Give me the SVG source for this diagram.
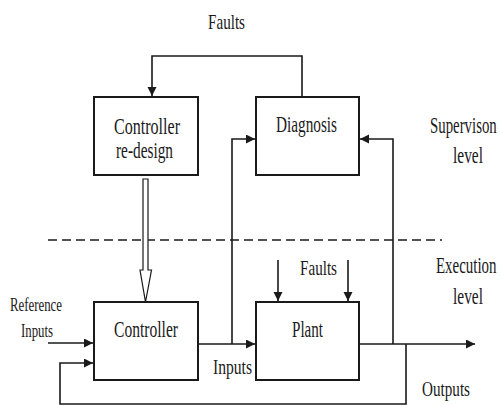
<svg xmlns="http://www.w3.org/2000/svg" width="503" height="406" viewBox="0 0 503 406">
  <style>
    .box { fill: #ffffff; stroke: #1a1a1a; stroke-width: 2; }
    .line { fill: none; stroke: #1a1a1a; stroke-width: 1.6; }
    .dash { fill: none; stroke: #1a1a1a; stroke-width: 1.6; stroke-dasharray: 9 5; }
    .hollow { fill: #ffffff; stroke: #1a1a1a; stroke-width: 1.2; }
    .t { font-family: 'Liberation Serif', 'DejaVu Serif', serif; fill: #1a1a1a; }
  </style>
  <defs>
    <marker id="arrow" markerUnits="userSpaceOnUse" markerWidth="10" markerHeight="10" refX="9" refY="4.5" orient="auto">
      <path d="M0,0 L9,4.5 L0,9 z" fill="#1a1a1a"/>
    </marker>
  </defs>
  <rect width="503" height="406" fill="#ffffff"/>

  <g id="separator">
    <path class="dash" d="M48,240 H442"/>
  </g>

  <g id="connectors">
    <path class="line" d="M302,97 V56 H152 V96" marker-end="url(#arrow)"/>
    <path class="hollow" d="M143,179 H148 V270 H151.5 L145.5,302 L140,270 H143 Z"/>
    <path class="line" d="M48,343 H93" marker-end="url(#arrow)"/>
    <path class="line" d="M406,344 V404 H60 V363 H93" marker-end="url(#arrow)"/>
    <path class="line" d="M198,344 H255" marker-end="url(#arrow)"/>
    <path class="line" d="M232,344 V139 H255" marker-end="url(#arrow)"/>
    <path class="line" d="M359,344 H475" marker-end="url(#arrow)"/>
    <path class="line" d="M393,344 V139 H360" marker-end="url(#arrow)"/>
    <path class="line" d="M278,260 V301" marker-end="url(#arrow)"/>
    <path class="line" d="M348,260 V301" marker-end="url(#arrow)"/>
  </g>

  <g id="redesign">
    <rect class="box" x="94" y="97" width="104" height="78"/>
    <text class="t" x="114" y="134" font-size="23" textLength="66" lengthAdjust="spacingAndGlyphs">Controller</text>
    <text class="t" x="116" y="158" font-size="23" textLength="57" lengthAdjust="spacingAndGlyphs">re-design</text>
  </g>

  <g id="diagnosis">
    <rect class="box" x="256" y="97" width="103" height="78"/>
    <text class="t" x="276" y="132" font-size="23" textLength="61" lengthAdjust="spacingAndGlyphs">Diagnosis</text>
  </g>

  <g id="controller">
    <rect class="box" x="94" y="302" width="104" height="78"/>
    <text class="t" x="114" y="337" font-size="23" textLength="64" lengthAdjust="spacingAndGlyphs">Controller</text>
  </g>

  <g id="plant">
    <rect class="box" x="256" y="302" width="103" height="78"/>
    <text class="t" x="292" y="337" font-size="23" textLength="31" lengthAdjust="spacingAndGlyphs">Plant</text>
  </g>

  <g id="labels">
    <text class="t" x="208" y="29" font-size="21" textLength="37" lengthAdjust="spacingAndGlyphs">Faults</text>
    <text class="t" transform="translate(430,133) scale(0.645,1)" x="0" y="0" font-size="23">Supervison</text>
    <text class="t" x="453" y="163" font-size="23" textLength="30" lengthAdjust="spacingAndGlyphs">level</text>
    <text class="t" transform="translate(436,273) scale(0.65,1)" x="0" y="0" font-size="23">Execution</text>
    <text class="t" x="453" y="304" font-size="23" textLength="30" lengthAdjust="spacingAndGlyphs">level</text>
    <text class="t" x="300" y="275" font-size="21" textLength="37" lengthAdjust="spacingAndGlyphs">Faults</text>
    <text class="t" x="10" y="311" font-size="19" textLength="52" lengthAdjust="spacingAndGlyphs">Reference</text>
    <text class="t" x="21" y="337" font-size="19" textLength="32" lengthAdjust="spacingAndGlyphs">Inputs</text>
    <text class="t" x="213" y="374" font-size="21" textLength="39" lengthAdjust="spacingAndGlyphs">Inputs</text>
    <text class="t" x="422" y="396" font-size="21" textLength="48" lengthAdjust="spacingAndGlyphs">Outputs</text>
  </g>
</svg>
